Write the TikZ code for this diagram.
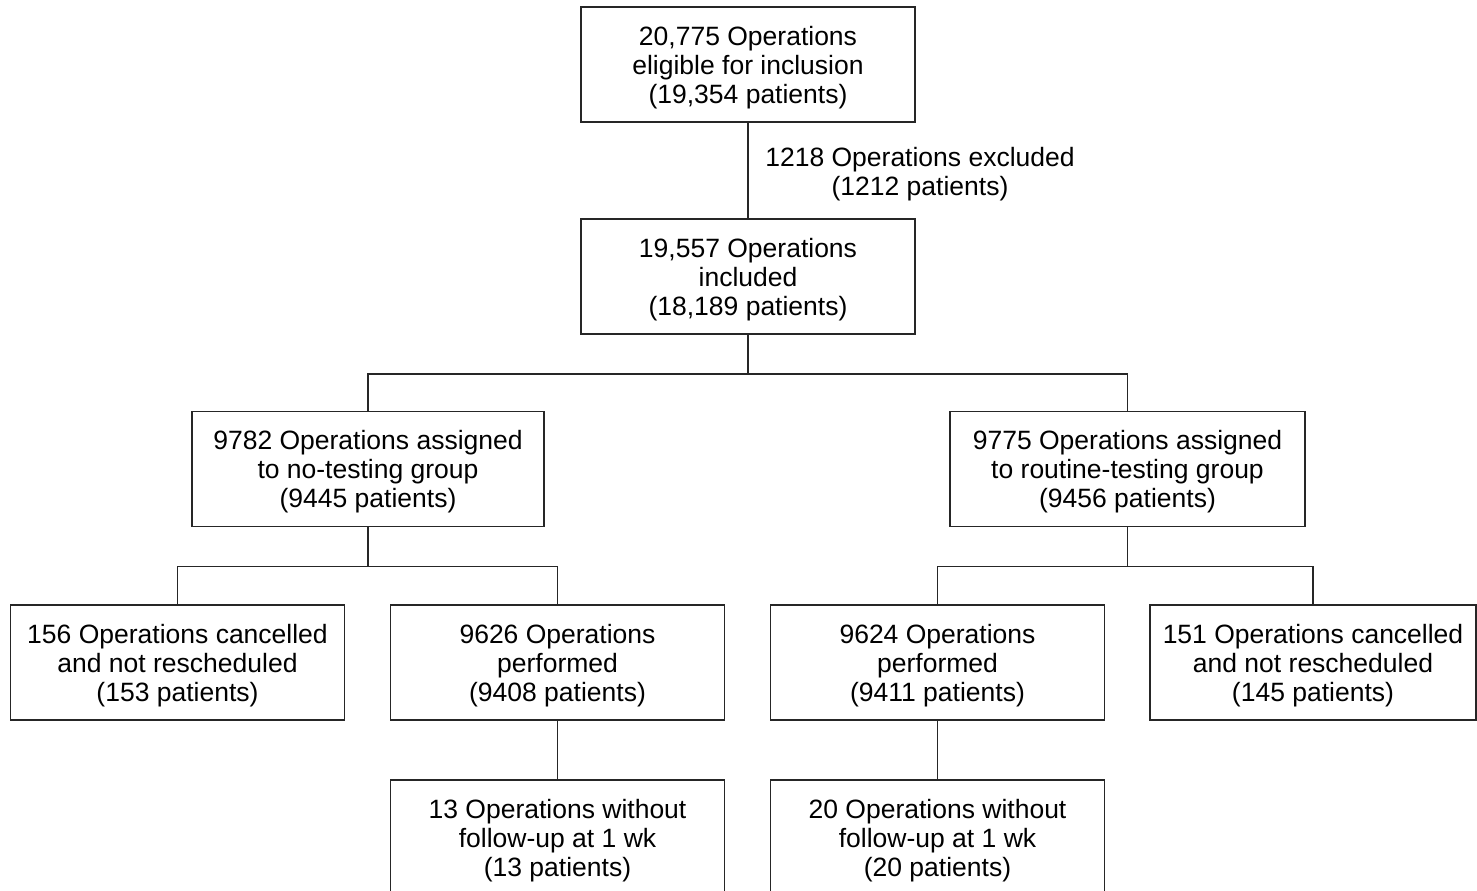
\documentclass[tikz,border=0pt]{standalone}
\usepackage{fontspec}
\setmainfont{Liberation Sans}
\begin{document}
\begin{tikzpicture}[x=1pt,y=-1pt,
  box/.style={draw=black!85, line width=1.8pt, minimum width=334pt, minimum height=115pt,
    align=center, inner sep=0pt, text height=83pt, text depth=6pt,
    font=\fontsize{26.5}{29}\selectfont},
  lbl/.style={align=center, inner sep=0pt, font=\fontsize{26.5}{29}\selectfont},
  conn/.style={draw=black!85, line width=1.8pt}]
\useasboundingbox (0,0) rectangle (1477,891);
\node[box] (n1) at (748,64.5) {20,775 Operations\\eligible for inclusion\\(19,354 patients)};
\node[box] (n2) at (748,276.5) {19,557 Operations\\included\\(18,189 patients)};
\node[lbl] (ex) at (920,174) {1218 Operations excluded\\(1212 patients)};
\node[box, minimum width=352pt] (gL) at (368,469) {9782 Operations assigned\\to no-testing group\\(9445 patients)};
\node[box, minimum width=355pt] (gR) at (1127.5,469) {9775 Operations assigned\\to routine-testing group\\(9456 patients)};
\node[box] (c1) at (177.5,662.5) {156 Operations cancelled\\and not rescheduled\\(153 patients)};
\node[box] (p1) at (557.5,662.5) {9626 Operations\\performed\\(9408 patients)};
\node[box] (p2) at (937.5,662.5) {9624 Operations\\performed\\(9411 patients)};
\node[box, minimum width=326pt] (c2) at (1313,662.5) {151 Operations cancelled\\and not rescheduled\\(145 patients)};
\node[box] (f1) at (557.5,837.5) {13 Operations without\\follow-up at 1 wk\\(13 patients)};
\node[box] (f2) at (937.5,837.5) {20 Operations without\\follow-up at 1 wk\\(20 patients)};
\draw[conn] (n1) -- (n2);
\draw[conn] (n2.south) -- ++(0,39) -| (gL.north);
\draw[conn] (n2.south) -- ++(0,39) -| (gR.north);
\draw[conn] (gL.south) -- ++(0,39) -| (c1.north);
\draw[conn] (gL.south) -- ++(0,39) -| (p1.north);
\draw[conn] (gR.south) -- ++(0,39) -| (p2.north);
\draw[conn] (gR.south) -- ++(0,39) -| (c2.north);
\draw[conn] (p1) -- (f1);
\draw[conn] (p2) -- (f2);
\end{tikzpicture}
\end{document}
